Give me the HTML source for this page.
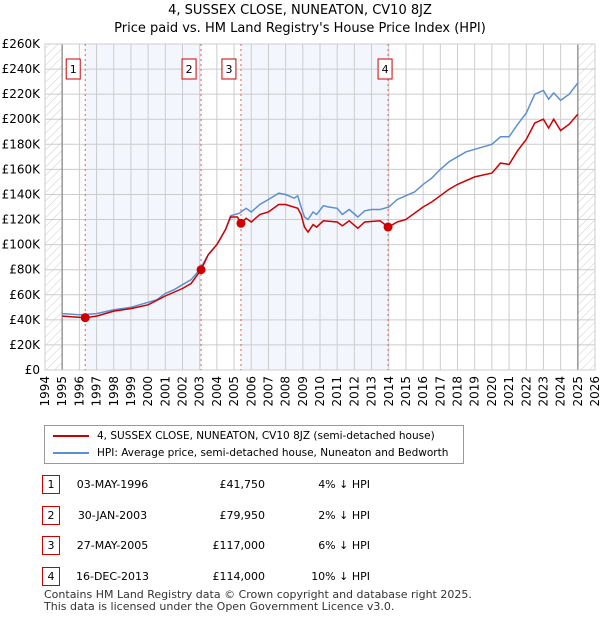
<!DOCTYPE html>
<html><head><meta charset="utf-8"><style>
body{margin:0;width:600px;height:620px;background:#fff;font-family:"DejaVu Sans","Liberation Sans",sans-serif;overflow:hidden;position:relative}
.t{position:absolute;font-size:12px;color:#000}
.box{position:absolute;border:1px solid #c00;width:16px;height:17px;text-align:center;font-size:11px;line-height:17px}
</style></head><body>
<div class="t" style="left:0;width:600px;text-align:center;top:2px;font-size:13px;line-height:18px">4, SUSSEX CLOSE, NUNEATON, CV10 8JZ<br>Price paid vs. HM Land Registry's House Price Index (HPI)</div>
<svg id="c" width="600" height="420" style="position:absolute;left:0;top:0"></svg>
<div style="position:absolute;left:44px;top:425px;width:418px;height:37px;border:1px solid #999;font-size:10.5px;white-space:nowrap">
<div style="position:absolute;left:8px;top:4px"><span style="display:inline-block;width:36px;border-top:2px solid #c00;vertical-align:middle;margin-right:8px"></span>4, SUSSEX CLOSE, NUNEATON, CV10 8JZ (semi-detached house)</div>
<div style="position:absolute;left:8px;top:21px"><span style="display:inline-block;width:36px;border-top:2px solid #5b8fd4;vertical-align:middle;margin-right:8px"></span>HPI: Average price, semi-detached house, Nuneaton and Bedworth</div>
</div>
<div id="tbl"></div>
<div class="t" style="left:44px;top:589px;font-size:11px;line-height:12px;color:#333">Contains HM Land Registry data © Crown copyright and database right 2025.<br>This data is licensed under the Open Government Licence v3.0.</div>
<script>
const hpiYears=[1995,1996,1996.5,1997,1998,1999,2000,2000.5,2001,2001.5,2002,2002.5,2003,2003.5,2004,2004.5,2004.8,2005.3,2005.7,2006,2006.5,2007,2007.6,2008,2008.5,2008.7,2008.9,2009.1,2009.3,2009.6,2009.8,2010.2,2010.5,2011,2011.3,2011.7,2012.2,2012.6,2013,2013.5,2014,2014.5,2015,2015.5,2016,2016.5,2017,2017.5,2018,2018.5,2019,2019.5,2020,2020.5,2021,2021.5,2022,2022.5,2023,2023.3,2023.6,2024,2024.5,2025];
const hpiValues=[45,44,44.5,45,48,50,54,56,61,64,68,72,80,92,100,112,123,125,129,126,132,136,141,140,137,139,130,122,120,126,124,131,130,129,124,128,122,127,128,128,130,136,139,142,148,153,160,166,170,174,176,178,180,186,186,196,205,220,223,216,221,215,220,229];
const priceYears=[1995,1996.34,1997,1998,1999,2000,2001,2002,2002.5,2003.08,2003.5,2004,2004.5,2004.8,2005.2,2005.4,2005.7,2006,2006.5,2007,2007.6,2008,2008.7,2008.9,2009.1,2009.3,2009.6,2009.8,2010.2,2011,2011.3,2011.7,2012.2,2012.6,2013.5,2013.96,2014.5,2015,2016,2016.5,2017,2017.5,2018,2019,2020,2020.5,2021,2021.5,2022,2022.5,2023,2023.3,2023.6,2024,2024.5,2025];
const priceValues=[43,41.75,43,47,49,52,59,65,69,79.95,92,100,112,122,122,117,121,118,124,126,132,132,129,124,114,110,116,114,119,118,115,119,113,118,119,114,118,120,130,134,139,144,148,154,157,165,164,175,184,197,200,193,200,191,196,204];
const saleYears=[1996.34,2003.08,2005.4,2013.96];
const salePrices=[41.75,79.95,117,114];
const saleLabels=["1","2","3","4"];
const saleDates=["03-MAY-1996","30-JAN-2003","27-MAY-2005","16-DEC-2013"];
const salePriceText=["£41,750","£79,950","£117,000","£114,000"];
const saleDiff=["4% ↓ HPI","2% ↓ HPI","6% ↓ HPI","10% ↓ HPI"];
const yTicks=[0,20,40,60,80,100,120,140,160,180,200,220,240,260];
const xTicks=[1994,1995,1996,1997,1998,1999,2000,2001,2002,2003,2004,2005,2006,2007,2008,2009,2010,2011,2012,2013,2014,2015,2016,2017,2018,2019,2020,2021,2022,2023,2024,2025,2026];
const X0=45,X1=595,Y0=370,Y1=44;
const xs=y=>X0+(y-1994)/32*(X1-X0);
const ys=v=>Y0-v/260*(Y0-Y1);
const svg=document.getElementById('c');const NS='http://www.w3.org/2000/svg';
function mk(t,a,p){const e=document.createElementNS(NS,t);for(const k in a)e.setAttribute(k,a[k]);(p||svg).appendChild(e);return e;}
const defs=mk('defs',{});
const pat=mk('pattern',{id:'h',width:6,height:6,patternUnits:'userSpaceOnUse',patternTransform:'rotate(45)'},defs);
mk('line',{x1:0,y1:0,x2:0,y2:6,stroke:'#ccc','stroke-width':1},pat);
let r;
r=mk('rect',{x:xs(1994),y:Y1,width:xs(1995)-xs(1994),height:Y0-Y1,fill:'url(#h)'});

r=mk('rect',{x:xs(2025),y:Y1,width:xs(2026)-xs(2025),height:Y0-Y1,fill:'url(#h)'});

[[0,1],[2,3]].forEach(([a,b])=>{r=mk('rect',{x:xs(saleYears[a]),y:Y1,width:xs(saleYears[b])-xs(saleYears[a]),height:Y0-Y1,fill:'#f3f6fd'});
});
yTicks.forEach(v=>{mk('line',{x1:X0,x2:X1,y1:ys(v),y2:ys(v),stroke:'#ccc'});
const t=mk('text',{x:40,y:ys(v)+4,'text-anchor':'end','font-size':12,fill:'#000'});t.textContent=v===0?'£0':'£'+v+'K';
});
xTicks.forEach(y=>{mk('line',{x1:xs(y),x2:xs(y),y1:Y1,y2:Y0,stroke:'#ccc'});
const t=mk('text',{transform:`translate(${xs(y)+4},${Y0+6}) rotate(-90)`,'text-anchor':'end','font-size':12,fill:'#000'});t.textContent=y;
});
mk('line',{x1:xs(1995),x2:xs(1995),y1:Y1,y2:Y0,stroke:'#999','stroke-width':1.5});
mk('line',{x1:xs(2025),x2:xs(2025),y1:Y1,y2:Y0,stroke:'#999','stroke-width':1.5});
mk('rect',{x:X0,y:Y1,width:X1-X0,height:Y0-Y1,fill:'none',stroke:'#ccc'});
saleYears.forEach((y,i)=>{const l=mk('line',{x1:xs(y),x2:xs(y),y1:Y1,y2:Y0,stroke:'#e06060','stroke-dasharray':'2,3'});

const bx=xs(y)-(i==3?3:12);
const g=mk('g',{});
mk('rect',{x:bx-7,y:59,width:14,height:20,fill:'#fff',stroke:'#c00'},g);
const t=mk('text',{x:bx,y:73,'text-anchor':'middle','font-size':11},g);t.textContent=saleLabels[i];});
function line(xa,va,col,name){const p=mk('path',{d:xa.map((y,i)=>(i?'L':'M')+xs(y).toFixed(1)+','+ys(va[i]).toFixed(1)).join(''),fill:'none',stroke:col,'stroke-width':1.5});
}
line(hpiYears,hpiValues,'#5b8fd4','hpi-line');
line(priceYears,priceValues,'#cc0000','price-line');
saleYears.forEach((y,i)=>{const c=mk('circle',{cx:xs(y),cy:ys(salePrices[i]),r:4.5,fill:'#cc0000'});
});
const tb=document.getElementById('tbl');
saleYears.forEach((y,i)=>{const top=475+i*30.5;
const row=document.createElement('div');
row.style.cssText=`position:absolute;left:0;top:${top}px;width:600px;height:20px;font-size:11px`;
row.innerHTML=`<div class="box" style="left:42px;top:0">${saleLabels[i]}</div><div class="t" style="left:70px;width:85px;text-align:center;top:3px;font-size:11px">${saleDates[i]}</div><div class="t" style="left:180px;width:85px;text-align:right;top:3px;font-size:11px">${salePriceText[i]}</div><div class="t" style="left:290px;width:80px;text-align:right;top:3px;font-size:11px">${saleDiff[i]}</div>`;
tb.appendChild(row);});
</script>
</body></html>
